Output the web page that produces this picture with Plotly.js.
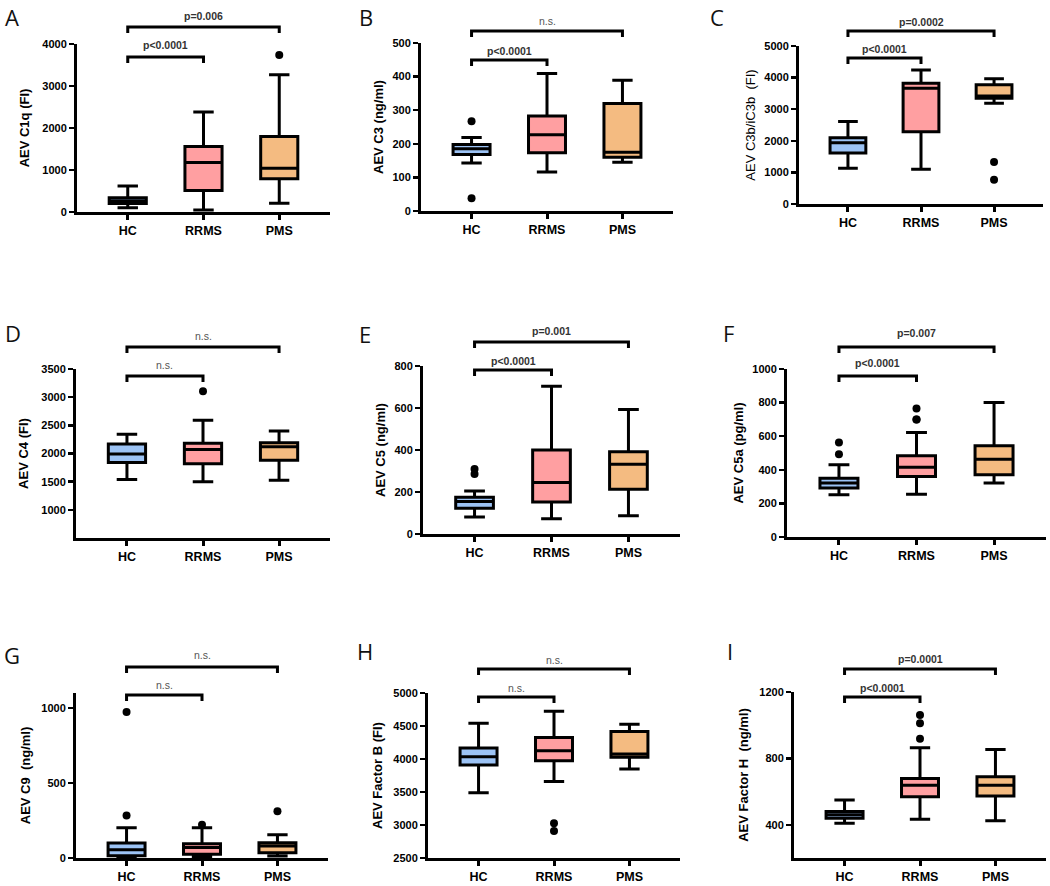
<!DOCTYPE html>
<html>
<head>
<meta charset="utf-8">
<script src="https://cdn.plot.ly/plotly-3.0.1.min.js"></script>
<style>html,body{margin:0;padding:0;background:#fff}#chart{width:1050px;height:886px}</style>
</head>
<body>
<div id="chart"></div>
<script>
// ---------- data ----------
const groups = ['HC', 'RRMS', 'PMS'];
const groupColors = ['#9cc3f5', '#ff9fa1', '#f4bb81'];

// A: AEV C1q (FI)
const c1q_lower  = [100, 50, 210];
const c1q_q1     = [200, 510, 790];
const c1q_median = [260, 1180, 1040];
const c1q_q3     = [340, 1560, 1800];
const c1q_upper  = [620, 2380, 3270];
const c1q_outGroup = ['PMS'];
const c1q_outValue = [3740];

// B: AEV C3 (ng/ml)
const c3_lower  = [143, 116, 145];
const c3_q1     = [168, 173, 160];
const c3_median = [185, 227, 175];
const c3_q3     = [198, 283, 320];
const c3_upper  = [219, 409, 389];
const c3_outGroup = ['HC', 'HC'];
const c3_outValue = [267, 38];

// C: AEV C3b/iC3b (FI)
const c3b_lower  = [1130, 1100, 3190];
const c3b_q1     = [1610, 2290, 3345];
const c3b_median = [1940, 3660, 3420];
const c3b_q3     = [2100, 3820, 3770];
const c3b_upper  = [2610, 4240, 3960];
const c3b_outGroup = ['PMS', 'PMS'];
const c3b_outValue = [1330, 770];

// D: AEV C4 (FI)
const c4_lower  = [1540, 1500, 1525];
const c4_q1     = [1840, 1820, 1880];
const c4_median = [1990, 2070, 2120];
const c4_q3     = [2170, 2180, 2190];
const c4_upper  = [2340, 2590, 2400];
const c4_outGroup = ['RRMS'];
const c4_outValue = [3105];

// E: AEV C5 (ng/ml)
const c5_lower  = [81, 73, 87];
const c5_q1     = [123, 152, 213];
const c5_median = [155, 245, 332];
const c5_q3     = [175, 400, 392];
const c5_upper  = [205, 704, 593];
const c5_outGroup = ['HC', 'HC'];
const c5_outValue = [286, 310];

// F: AEV C5a (pg/ml)
const c5a_lower  = [251, 255, 321];
const c5a_q1     = [291, 360, 370];
const c5a_median = [321, 415, 463];
const c5a_q3     = [350, 483, 543];
const c5a_upper  = [430, 622, 800];
const c5a_outGroup = ['HC', 'HC', 'RRMS', 'RRMS', 'RRMS'];
const c5a_outValue = [493, 562, 700, 700, 765];

// G: AEV C9 (ng/ml)
const c9_lower  = [3, 8, 13];
const c9_q1     = [15, 25, 35];
const c9_median = [55, 70, 80];
const c9_q3     = [100, 95, 102];
const c9_upper  = [201, 201, 155];
const c9_outGroup = ['HC', 'HC', 'RRMS', 'PMS'];
const c9_outValue = [283, 974, 221, 311];

// H: AEV Factor B (FI)
const fb_lower  = [3490, 3660, 3850];
const fb_q1     = [3910, 3975, 4025];
const fb_median = [4035, 4125, 4075];
const fb_q3     = [4165, 4325, 4415];
const fb_upper  = [4540, 4725, 4525];
const fb_outGroup = ['RRMS', 'RRMS'];
const fb_outValue = [3025, 2910];

// I: AEV Factor H (ng/ml)
const fh_lower  = [410, 434, 424];
const fh_q1     = [440, 569, 573];
const fh_median = [460, 639, 639];
const fh_q3     = [480, 679, 689];
const fh_upper  = [549, 864, 854];
const fh_outGroup = ['RRMS', 'RRMS', 'RRMS'];
const fh_outValue = [918, 1011, 1062];

// axis titles and significance labels
const panelLetters = ['A', 'B', 'C', 'D', 'E', 'F', 'G', 'H', 'I'];
const axisTitles = ['AEV C1q (FI)', 'AEV C3 (ng/ml)', 'AEV C3b/iC3b  (FI)', 'AEV C4 (FI)',
  'AEV C5 (ng/ml)', 'AEV C5a (pg/ml)', 'AEV C9  (ng/ml)', 'AEV Factor B (FI)', 'AEV Factor H  (ng/ml)'];
const sigShort = ['p<0.0001', 'p<0.0001', 'p<0.0001', 'n.s.', 'p<0.0001', 'p<0.0001', 'n.s.', 'n.s.', 'p<0.0001']; // HC vs RRMS
const sigLong  = ['p=0.006', 'n.s.', 'p=0.0002', 'n.s.', 'p=0.001', 'p=0.007', 'n.s.', 'n.s.', 'p=0.0001'];     // HC vs PMS

// y-axis ranges and ticks
const yRanges = [[0, 4000], [0, 500], [0, 5000], [500, 3500], [0, 800], [0, 1000], [0, 1100], [2500, 5000], [200, 1200]];
const yTicks = [
  [0, 1000, 2000, 3000, 4000],
  [0, 100, 200, 300, 400, 500],
  [0, 1000, 2000, 3000, 4000, 5000],
  [1000, 1500, 2000, 2500, 3000, 3500],
  [0, 200, 400, 600, 800],
  [0, 200, 400, 600, 800, 1000],
  [0, 500, 1000],
  [2500, 3000, 3500, 4000, 4500, 5000],
  [400, 800, 1200]
];

const panelStats = [
  [c1q_lower, c1q_q1, c1q_median, c1q_q3, c1q_upper, c1q_outGroup, c1q_outValue],
  [c3_lower, c3_q1, c3_median, c3_q3, c3_upper, c3_outGroup, c3_outValue],
  [c3b_lower, c3b_q1, c3b_median, c3b_q3, c3b_upper, c3b_outGroup, c3b_outValue],
  [c4_lower, c4_q1, c4_median, c4_q3, c4_upper, c4_outGroup, c4_outValue],
  [c5_lower, c5_q1, c5_median, c5_q3, c5_upper, c5_outGroup, c5_outValue],
  [c5a_lower, c5a_q1, c5a_median, c5a_q3, c5a_upper, c5a_outGroup, c5a_outValue],
  [c9_lower, c9_q1, c9_median, c9_q3, c9_upper, c9_outGroup, c9_outValue],
  [fb_lower, fb_q1, fb_median, fb_q3, fb_upper, fb_outGroup, fb_outValue],
  [fh_lower, fh_q1, fh_median, fh_q3, fh_upper, fh_outGroup, fh_outValue]
];

// ---------- layout geometry (pixels in the 1050x886 page) ----------
const W = 1050, H = 886;
const px = v => v / W;
const py = v => 1 - v / H;
// [xLeft, xRight, yTop, yBottom] of each plotting area
const boxesPx = [
  [77, 330, 44, 212], [421, 673, 43, 211], [799, 1043, 46, 204],
  [76, 330, 369, 538], [423, 680, 366, 534], [787, 1046, 369, 537],
  [76, 328, 693, 858], [428, 680, 693, 858], [794, 1046, 692, 858]
];
// [shortBracketY, shortTextY, longBracketY, longTextY]
const bracketPx = [
  [57, 45, 27, 16], [60, 51, 31, 21], [58, 49, 31, 22],
  [376, 365, 347, 336], [370, 361, 342, 331], [376, 363, 347, 333],
  [695, 685, 667, 655], [697, 688, 669, 660], [697, 688, 669, 659]
];
// top-left-ish anchor (x centre, y top) of the panel letters
const letterPx = [[12, 1], [366, 1], [717, 1], [13, 317], [365, 318], [728, 317], [12, 639], [365, 635], [730, 635]];
const titleStandoff = [10, 6, 6, 10, 6, 6, 8, 8, 8];

const FONT = 'Liberation Sans, Arial, sans-serif';
const traces = [];
const layout = {
  width: W, height: H,
  margin: {l: 0, r: 0, t: 0, b: 0},
  paper_bgcolor: '#fff', plot_bgcolor: '#fff',
  showlegend: false,
  shapes: [], annotations: [],
  font: {family: FONT, color: '#000'}
};

for (let p = 0; p < 9; p++) {
  const suf = p === 0 ? '' : String(p + 1);
  const xa = 'x' + suf, ya = 'y' + suf;
  const [lo, q1, med, q3, hi, outG, outV] = panelStats[p];
  const [xl, xr, yt, yb] = boxesPx[p];

  for (let g = 0; g < 3; g++) {
    traces.push({
      type: 'box', xaxis: xa, yaxis: ya,
      x: [groups[g]], q1: [q1[g]], median: [med[g]], q3: [q3[g]],
      lowerfence: [lo[g]], upperfence: [hi[g]],
      fillcolor: groupColors[g],
      line: {color: '#000', width: 3},
      whiskerwidth: 0.55, boxpoints: false,
      name: groups[g], hoverinfo: 'skip', showlegend: false
    });
  }
  traces.push({
    type: 'scatter', mode: 'markers', xaxis: xa, yaxis: ya,
    x: outG, y: outV, cliponaxis: false,
    marker: {color: '#000', size: 8}, hoverinfo: 'skip', showlegend: false
  });

  layout['xaxis' + suf] = {
    domain: [px(xl), px(xr)], anchor: ya,
    type: 'category', categoryorder: 'array', categoryarray: groups,
    range: [-0.67, 2.67],
    showline: true, linewidth: 3, linecolor: '#000',
    ticks: 'outside', ticklen: 5, tickwidth: 3, tickcolor: '#000',
    tickfont: {family: FONT, size: 12.5, color: '#000', weight: 'bold'},
    showgrid: false, zeroline: false, fixedrange: true, automargin: false
  };
  layout['yaxis' + suf] = {
    domain: [py(yb), py(yt)], anchor: xa,
    range: yRanges[p], tickmode: 'array', tickvals: yTicks[p],
    showline: true, linewidth: 3, linecolor: '#000',
    ticks: 'outside', ticklen: 5, tickwidth: 2.5, tickcolor: '#000',
    tickfont: {family: FONT, size: 11, color: '#000', weight: 'bold'},
    showgrid: false, zeroline: false, fixedrange: true, automargin: false,
    title: {
      text: axisTitles[p], standoff: titleStandoff[p],
      font: {family: FONT, size: 13, color: '#000', weight: p === 2 ? 'normal' : 'bold'}
    }
  };

  // significance brackets
  const [sb, st, lb, lt] = bracketPx[p];
  const leg = 6;
  layout.shapes.push({
    type: 'path', xref: xa, yref: 'paper',
    path: `M0,${py(sb + leg)} L0,${py(sb)} L1,${py(sb)} L1,${py(sb + leg)}`,
    line: {color: '#000', width: 3}
  });
  layout.shapes.push({
    type: 'path', xref: xa, yref: 'paper',
    path: `M0,${py(lb + leg)} L0,${py(lb)} L2,${py(lb)} L2,${py(lb + leg)}`,
    line: {color: '#000', width: 3}
  });
  const sigStyle = t => t === 'n.s.'
    ? {family: FONT, size: 10.5, color: '#555', weight: 'normal'}
    : {family: FONT, size: 10.5, color: '#333', weight: 'bold'};
  layout.annotations.push({
    xref: xa, yref: 'paper', x: 0.5, y: py(st), text: sigShort[p],
    showarrow: false, xanchor: 'center', yanchor: 'middle', font: sigStyle(sigShort[p])
  });
  layout.annotations.push({
    xref: xa, yref: 'paper', x: 1, y: py(lt), text: sigLong[p],
    showarrow: false, xanchor: 'center', yanchor: 'middle', font: sigStyle(sigLong[p])
  });
  // panel letter
  layout.annotations.push({
    xref: 'paper', yref: 'paper', x: px(letterPx[p][0]), y: py(letterPx[p][1]),
    text: panelLetters[p], showarrow: false, xanchor: 'center', yanchor: 'top',
    borderpad: 0,
    font: {family: 'Open Sans, DejaVu Sans, sans-serif', size: 22, color: '#111'}
  });
}

Plotly.newPlot('chart', traces, layout, {staticPlot: true, displayModeBar: false});
</script>
</body>
</html>
